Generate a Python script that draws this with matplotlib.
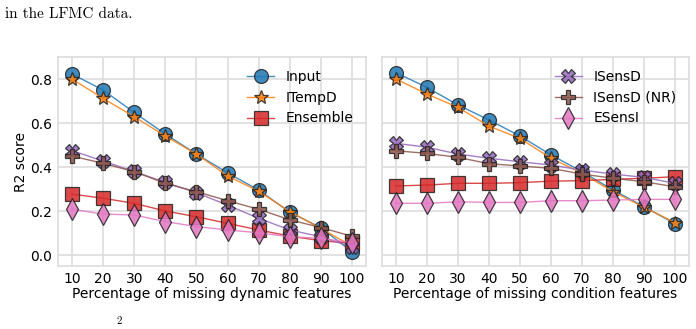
import matplotlib
matplotlib.use("Agg")
import matplotlib.pyplot as plt

# x: percentage of missing features
pct = [10, 20, 30, 40, 50, 60, 70, 80, 90, 100]

# left panel: missing dynamic features
dyn_input    = [0.823, 0.750, 0.648, 0.550, 0.459, 0.374, 0.295, 0.195, 0.124, 0.015]
dyn_itempd   = [0.800, 0.712, 0.629, 0.541, 0.459, 0.360, 0.290, 0.197, 0.121, 0.040]
dyn_ensemble = [0.277, 0.258, 0.235, 0.200, 0.174, 0.144, 0.114, 0.086, 0.065, 0.053]
dyn_isensd   = [0.475, 0.427, 0.380, 0.330, 0.283, 0.227, 0.167, 0.114, 0.083, 0.036]
dyn_isensd_nr = [0.450, 0.417, 0.379, 0.326, 0.288, 0.247, 0.208, 0.160, 0.125, 0.085]
dyn_esensi   = [0.208, 0.186, 0.182, 0.152, 0.129, 0.114, 0.101, 0.083, 0.076, 0.056]

# right panel: missing condition features
cond_input    = [0.829, 0.762, 0.682, 0.614, 0.541, 0.455, 0.379, 0.295, 0.220, 0.142]
cond_itempd   = [0.800, 0.732, 0.671, 0.586, 0.530, 0.440, 0.372, 0.288, 0.217, 0.147]
cond_ensemble = [0.314, 0.318, 0.326, 0.326, 0.329, 0.336, 0.338, 0.344, 0.349, 0.356]
cond_isensd   = [0.508, 0.490, 0.459, 0.440, 0.424, 0.409, 0.386, 0.368, 0.353, 0.326]
cond_isensd_nr = [0.474, 0.462, 0.444, 0.415, 0.405, 0.394, 0.368, 0.349, 0.333, 0.310]
cond_esensi   = [0.235, 0.235, 0.242, 0.239, 0.239, 0.247, 0.247, 0.250, 0.253, 0.253]

names = ["Input", "ITempD", "Ensemble", "ISensD", "ISensD (NR)", "ESensI"]
colors = ["tab:blue", "tab:orange", "tab:red", "tab:purple", "tab:brown", "tab:pink"]
markers = ["o", "*", "s", "X", "P", "d"]
sizes = [10, 10, 10, 10, 10, 11]

plt.rcParams["font.family"] = "DejaVu Sans"
fig = plt.figure(figsize=(6.96, 3.29), dpi=100)
ax1 = fig.add_axes([0.0833, 0.1915, 0.4425, 0.635])
ax2 = fig.add_axes([0.5489, 0.1915, 0.4411, 0.635], sharey=ax1)

panels = [
    (ax1, [dyn_input, dyn_itempd, dyn_ensemble, dyn_isensd, dyn_isensd_nr, dyn_esensi],
     "Percentage of missing dynamic features", [0, 1, 2]),
    (ax2, [cond_input, cond_itempd, cond_ensemble, cond_isensd, cond_isensd_nr, cond_esensi],
     "Percentage of missing condition features", [3, 4, 5]),
]

for ax, series, xlabel, leg_idx in panels:
    handles = []
    for i, ys in enumerate(series):
        h, = ax.plot(pct, ys, color=colors[i], marker=markers[i], markersize=sizes[i],
                     linewidth=1, markeredgecolor="#222222", markeredgewidth=0.9,
                     alpha=0.85, label=names[i])
        handles.append(h)
    ax.legend([handles[j] for j in leg_idx], [names[j] for j in leg_idx],
              loc="upper right", frameon=False, fontsize=10)
    ax.set_xticks(pct)
    ax.set_xlim(5.5, 104.5)
    ax.set_xlabel(xlabel, fontsize=10, labelpad=1)
    ax.grid(True, color="#dddddd", linewidth=1.2)
    ax.set_axisbelow(True)
    for s in ax.spines.values():
        s.set_color("#dddddd")
        s.set_linewidth(1.2)
    ax.tick_params(length=0, labelsize=10, pad=4)

ax1.set_ylim(-0.05, 0.9)
ax1.set_yticks([0.0, 0.2, 0.4, 0.6, 0.8])
ax1.set_ylabel("R2 score", fontsize=10, labelpad=2)
ax2.tick_params(labelleft=False)

# surrounding page text (cropped caption)
fig.text(0.007, 0.958, "in the LFMC data.", fontfamily="cmr10", fontsize=11, va="center")
fig.text(0.168, 0.008, "2", fontfamily="cmr10", fontsize=8, va="bottom")

fig.savefig("out.png", dpi=100)
